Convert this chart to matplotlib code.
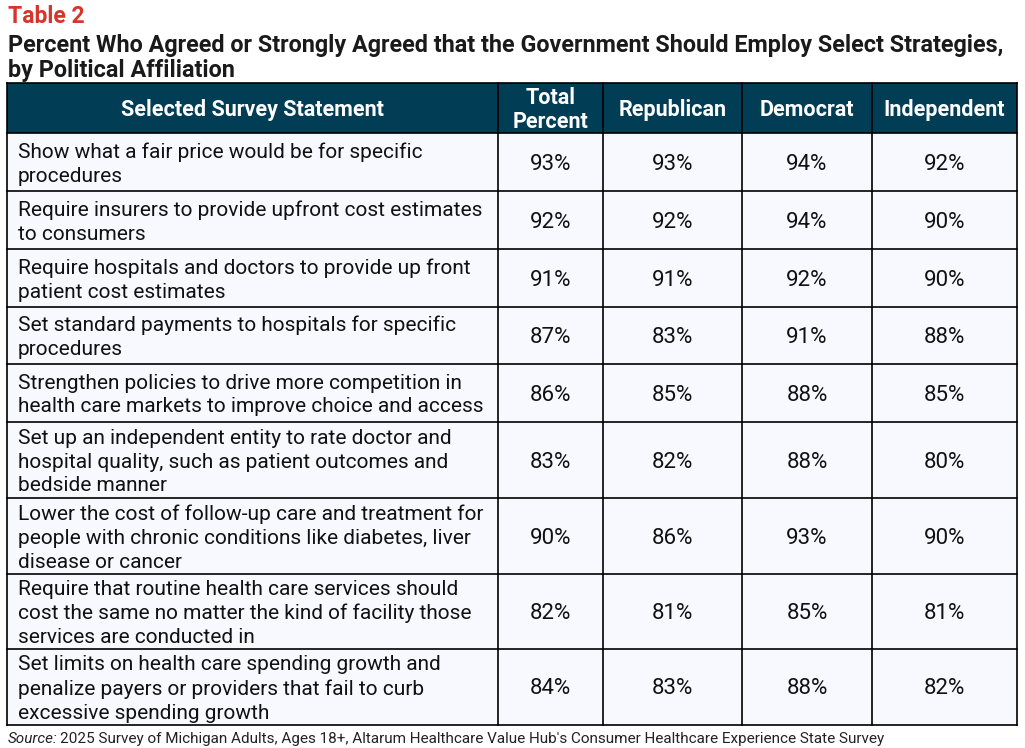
import matplotlib.pyplot as plt
from matplotlib.patches import Rectangle

statements = [
    "Show what a fair price would be for specific\nprocedures",
    "Require insurers to provide upfront cost estimates\nto consumers",
    "Require hospitals and doctors to provide up front\npatient cost estimates",
    "Set standard payments to hospitals for specific\nprocedures",
    "Strengthen policies to drive more competition in\nhealth care markets to improve choice and access",
    "Set up an independent entity to rate doctor and\nhospital quality, such as patient outcomes and\nbedside manner",
    "Lower the cost of follow-up care and treatment for\npeople with chronic conditions like diabetes, liver\ndisease or cancer",
    "Require that routine health care services should\ncost the same no matter the kind of facility those\nservices are conducted in",
    "Set limits on health care spending growth and\npenalize payers or providers that fail to curb\nexcessive spending growth",
]
total = [93, 92, 91, 87, 86, 83, 90, 82, 84]
republican = [93, 92, 91, 83, 85, 82, 86, 81, 83]
democrat = [94, 94, 92, 91, 88, 88, 93, 85, 88]
independent = [92, 90, 90, 88, 85, 80, 90, 81, 82]
headers = ["Selected Survey Statement", "Total\nPercent", "Republican", "Democrat", "Independent"]

HEAD_BG = "#013D55"
CELL_BG = "#F7F9FE"
RED = "#D8352A"
FONT = ["Roboto", "DejaVu Sans"]

col_x = [7, 498, 603, 742, 872, 1017]
row_y = [83, 133, 191, 249, 307, 364, 422, 498, 574, 649, 725]

fig = plt.figure(figsize=(10.25, 7.48), dpi=100)
ax = fig.add_axes([0, 0, 1, 1])
ax.set_xlim(0, 1025)
ax.set_ylim(748, 0)
ax.axis("off")

ax.text(8, 16, "Table 2", color=RED, fontsize=16.5, fontweight="bold", family=FONT, va="center")
ax.text(8, 45, "Percent Who Agreed or Strongly Agreed that the Government Should Employ Select Strategies,",
        color="#1a1a1a", fontsize=16.8, fontweight="bold", family=FONT, va="center")
ax.text(8, 70, "by Political Affiliation", color="#1a1a1a", fontsize=16.8, fontweight="bold",
        family=FONT, va="center")

# header
ax.add_patch(Rectangle((col_x[0], row_y[0]), col_x[-1] - col_x[0], row_y[1] - row_y[0],
                       facecolor=HEAD_BG, edgecolor="none"))
for i, h in enumerate(headers):
    cx = (col_x[i] + col_x[i + 1]) / 2
    ax.text(cx, (row_y[0] + row_y[1]) / 2 + 2, h, color="white", fontsize=15.5, fontweight="bold",
            family=FONT, ha="center", va="center", linespacing=1.09)

# body
ax.add_patch(Rectangle((col_x[0], row_y[1]), col_x[-1] - col_x[0], row_y[-1] - row_y[1],
                       facecolor=CELL_BG, edgecolor="none"))
for r, stmt in enumerate(statements):
    y0, y1 = row_y[r + 1], row_y[r + 2]
    cy = (y0 + y1) / 2
    ax.text(18, cy + 2, stmt, color="#111111", fontsize=15, family=FONT, ha="left", va="center",
            linespacing=1.33)
    for c, vals in enumerate([total, republican, democrat, independent]):
        cx = (col_x[c + 1] + col_x[c + 2]) / 2
        ax.text(cx, cy + 2, f"{vals[r]}%", color="#111111", fontsize=16, family=FONT,
                ha="center", va="center")

# grid lines
for y in row_y:
    ax.plot([col_x[0], col_x[-1]], [y, y], color="black", lw=1.2, solid_capstyle="projecting")
for x in col_x:
    ax.plot([x, x], [row_y[0], row_y[-1]], color="black", lw=1.2, solid_capstyle="projecting")

ax.text(8, 739, "Source:", color="#222222", fontsize=11, style="italic", family=FONT, va="center")
ax.text(60, 739, "2025 Survey of Michigan Adults, Ages 18+, Altarum Healthcare Value Hub's Consumer Healthcare Experience State Survey",
        color="#222222", fontsize=11, family=FONT, va="center")

fig.savefig("out.png", dpi=100)
